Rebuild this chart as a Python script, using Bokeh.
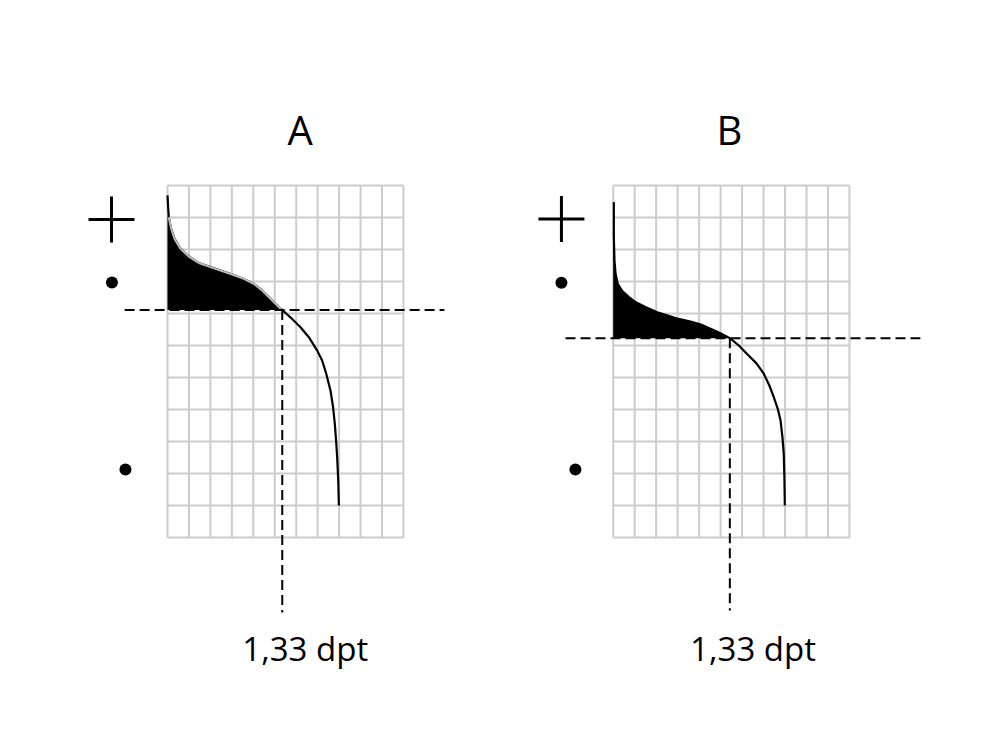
from bokeh.plotting import figure
from bokeh.layouts import row
from bokeh.models import Range1d
from bokeh.core.properties import value
from bokeh.embed import file_html
from bokeh.resources import INLINE

# ---- data (grid units: columns along x, rows along y, grid = 11 x 11) ----
panel_titles = ["A", "B"]
bottom_labels = ["1,33 dpt", "1,33 dpt"]

grid_cols = 11
grid_rows = 11

# Panel A curve
a_x = [0.0, 0.03, 0.06, 0.17, 0.33, 0.61, 0.99, 1.46, 2.0, 2.47, 3.02, 3.56, 4.02, 4.41, 4.8, 5.27,
       5.35, 5.73, 6.2, 6.59, 6.98, 7.21, 7.4, 7.6, 7.72, 7.8, 7.86, 7.91, 7.96, 7.99]
a_y = [10.69, 10.32, 10.01, 9.65, 9.33, 9.02, 8.78, 8.58, 8.45, 8.34, 8.22, 8.08, 7.93, 7.72, 7.46, 7.15,
       7.11, 6.88, 6.57, 6.26, 5.84, 5.53, 5.12, 4.59, 4.07, 3.55, 3.03, 2.51, 1.78, 1.0]
a_cross_x = 5.35
a_cross_y = 7.11
a_fill_start = 2  # index where shaded area starts

# Panel B curve
b_x = [0.03, 0.03, 0.06, 0.11, 0.21, 0.42, 0.73, 1.05, 1.5, 2.05, 2.51, 3.04, 3.6, 4.05, 4.53, 5.04,
       5.43, 5.85, 6.22, 6.66, 7.01, 7.27, 7.48, 7.66, 7.79, 7.88, 7.94, 7.97, 7.99]
b_y = [10.48, 9.38, 8.66, 8.24, 7.93, 7.70, 7.51, 7.35, 7.2, 7.04, 6.94, 6.83, 6.75, 6.66, 6.52, 6.37,
       6.23, 6.0, 5.74, 5.45, 5.12, 4.75, 4.38, 4.02, 3.66, 3.13, 2.62, 1.88, 1.0]
b_cross_x = 5.43
b_cross_y = 6.23
b_fill_start = 0

FONT = "Open Sans"
GRID_COLOR = "#cccccc"


def make_panel(title, label, cx, cy, cross_x, cross_y, fill_start, x_start, sx,
               hline_ext, vline_end, plus_pos, dot_pos, title_x, label_x, edge_color):
    W, H = 492, 733
    sy = 32.0
    y_top = 537 / sy
    p = figure(width=W, height=H, output_backend="svg", toolbar_location=None,
               x_range=Range1d(x_start, x_start + W / sx),
               y_range=Range1d(y_top - H / sy, y_top),
               min_border=0, x_axis_location=None, y_axis_location=None,
               outline_line_color=None, background_fill_color="white",
               border_fill_color="white")
    p.xgrid.visible = False
    p.ygrid.visible = False

    # grid
    xs = [[i, i] for i in range(grid_cols + 1)] + [[0, grid_cols] for _ in range(grid_rows + 1)]
    ys = [[0, grid_rows] for _ in range(grid_cols + 1)] + [[j, j] for j in range(grid_rows + 1)]
    p.multi_line(xs, ys, line_color=GRID_COLOR, line_width=2)

    # curve
    p.line(cx, cy, line_color="black", line_width=2.2, line_join="round")

    # shaded area
    k = cx.index(cross_x)
    px = [0.0] + cx[fill_start:k + 1] + [0.0]
    py = [cy[fill_start]] + cy[fill_start:k + 1] + [cross_y]
    p.patch(px, py, fill_color="black", line_color=None)
    if edge_color:
        p.line(cx[fill_start:k + 1], cy[fill_start:k + 1], line_color=edge_color,
               line_width=2, line_join="round")

    # dashed reference lines
    p.line([hline_ext[0], hline_ext[1]], [cross_y, cross_y], line_color="black",
           line_width=2, line_dash="10 5")
    p.line([cross_x, cross_x], [cross_y, vline_end], line_color="black",
           line_width=2, line_dash="10 5")

    # + and dots
    p.scatter([plus_pos[0]], [plus_pos[1]], marker="cross", size=46,
              line_color="black", line_width=3)
    p.scatter([d[0] for d in dot_pos], [d[1] for d in dot_pos], marker="circle",
              size=12, fill_color="black", line_color=None)

    # texts
    p.text([title_x], [(537 - 128.5) / sy], text=[title], text_font=value(FONT),
           text_font_size="40px", text_align="center", text_baseline="alphabetic",
           text_color="black")
    p.text([label_x], [(537 - 647.5) / sy], text=[label], text_font=value(FONT),
           text_font_size="33px", text_align="center", text_baseline="alphabetic",
           text_color="black")
    return p


pa = make_panel(panel_titles[0], bottom_labels[0], a_x, a_y, a_cross_x, a_cross_y, a_fill_start,
                x_start=-167 / 21.45, sx=21.45,
                hline_ext=(-2.0, 12.91), vline_end=-2.34,
                plus_pos=(-2.61, 9.94), dot_pos=[(-2.59, 7.97), (-1.96, 2.125)],
                title_x=6.18, label_x=6.42, edge_color="#bdbdbd")

pb = make_panel(panel_titles[1], bottom_labels[1], b_x, b_y, b_cross_x, b_cross_y, b_fill_start,
                x_start=-(612.7 - 492) / 21.48, sx=21.48,
                hline_ext=(-2.22, 14.3), vline_end=-2.28,
                plus_pos=(-2.41, 9.95), dot_pos=[(-2.41, 7.96), (-1.76, 2.125)],
                title_x=5.41, label_x=6.51, edge_color=None)

layout = row(pa, pb)
open("out.html", "w").write(file_html(layout, INLINE))
